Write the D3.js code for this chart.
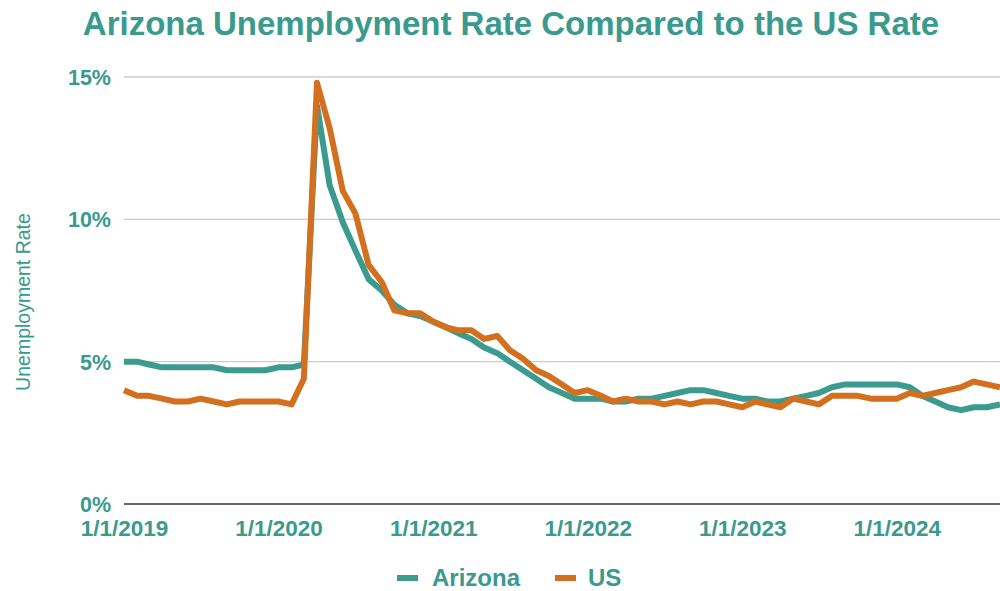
<!DOCTYPE html>
<html>
<head>
<meta charset="utf-8">
<script src="https://cdn.jsdelivr.net/npm/d3@7"></script>
<style>
  html, body { margin: 0; padding: 0; background: #ffffff; }
  svg { display: block; font-family: "Liberation Sans", Arial, sans-serif; }
</style>
</head>
<body>
<svg id="chart" width="1000" height="591"></svg>
<script>
const title = "Arizona Unemployment Rate Compared to the US Rate";
const yAxisLabel = "Unemployment Rate";
const seriesNames = ["Arizona", "US"];
const seriesColors = ["#3a9b8e", "#d2701f"];
const startMonth = new Date(2019, 0, 1);
const endMonth = new Date(2024, 8, 1);
const months = d3.timeMonth.range(startMonth, d3.timeMonth.offset(endMonth, 1));
const yTickValues = [0, 5, 10, 15];
const xTickDates = [new Date(2019,0,1), new Date(2020,0,1), new Date(2021,0,1), new Date(2022,0,1), new Date(2023,0,1), new Date(2024,0,1)];

const arizona = [
  5.0, 5.0, 4.9, 4.8, 4.8, 4.8, 4.8, 4.8, 4.7, 4.7, 4.7, 4.7,
  4.8, 4.8, 4.9, 14.0, 11.2, 9.9, 8.9, 7.9, 7.5, 7.0, 6.7, 6.6,
  6.4, 6.2, 6.0, 5.8, 5.5, 5.3, 5.0, 4.7, 4.4, 4.1, 3.9, 3.7,
  3.7, 3.7, 3.6, 3.6, 3.7, 3.7, 3.8, 3.9, 4.0, 4.0, 3.9, 3.8,
  3.7, 3.7, 3.6, 3.6, 3.7, 3.8, 3.9, 4.1, 4.2, 4.2, 4.2, 4.2,
  4.2, 4.1, 3.8, 3.6, 3.4, 3.3, 3.4, 3.4, 3.5
];
const us = [
  4.0, 3.8, 3.8, 3.7, 3.6, 3.6, 3.7, 3.6, 3.5, 3.6, 3.6, 3.6,
  3.6, 3.5, 4.4, 14.8, 13.2, 11.0, 10.2, 8.4, 7.8, 6.8, 6.7, 6.7,
  6.4, 6.2, 6.1, 6.1, 5.8, 5.9, 5.4, 5.1, 4.7, 4.5, 4.2, 3.9,
  4.0, 3.8, 3.6, 3.7, 3.6, 3.6, 3.5, 3.6, 3.5, 3.6, 3.6, 3.5,
  3.4, 3.6, 3.5, 3.4, 3.7, 3.6, 3.5, 3.8, 3.8, 3.8, 3.7, 3.7,
  3.7, 3.9, 3.8, 3.9, 4.0, 4.1, 4.3, 4.2, 4.1
];

const teal = "#3a9a8d";
const svg = d3.select("#chart");
const W = 1000, H = 591;
const plot = { left: 124, right: 1000, top: 77, bottom: 504 };

const x = d3.scaleTime().domain([startMonth, endMonth]).range([plot.left, plot.right]);
const y = d3.scaleLinear().domain([0, 15]).range([plot.bottom, plot.top]);

// Title
svg.append("text")
  .attr("x", 511).attr("y", 35)
  .attr("text-anchor", "middle")
  .attr("font-size", 33).attr("font-weight", "bold")
  .attr("fill", teal)
  .text(title);

// Gridlines
svg.append("g")
  .selectAll("line")
  .data(yTickValues.filter(v => v > 0))
  .join("line")
  .attr("x1", plot.left).attr("x2", plot.right)
  .attr("y1", d => y(d)).attr("y2", d => y(d))
  .attr("stroke", "#cccccc").attr("stroke-width", 1.3);

// Y axis labels
const yAxis = d3.axisLeft(y).tickValues(yTickValues).tickFormat(d => d + "%").tickSize(0).tickPadding(0);
const gy = svg.append("g").attr("transform", `translate(111,0)`).call(yAxis);
gy.select(".domain").remove();
gy.selectAll("text")
  .attr("font-size", 21.5).attr("font-weight", "bold")
  .attr("fill", teal).attr("font-family", "Liberation Sans, Arial, sans-serif")
  .attr("dy", "0.35em");

// X axis labels
const fmt = d => `${d.getMonth()+1}/${d.getDate()}/${d.getFullYear()}`;
const xAxis = d3.axisBottom(x).tickValues(xTickDates).tickFormat(fmt).tickSize(0).tickPadding(0);
const gx = svg.append("g").attr("transform", `translate(0,${plot.bottom})`).call(xAxis);
gx.select(".domain").remove();
gx.selectAll("text")
  .attr("font-size", 22.5).attr("font-weight", "bold")
  .attr("fill", teal).attr("font-family", "Liberation Sans, Arial, sans-serif")
  .attr("dy", null).attr("y", 32);

// Baseline
svg.append("line")
  .attr("x1", plot.left).attr("x2", plot.right)
  .attr("y1", y(0)).attr("y2", y(0))
  .attr("stroke", "#333333").attr("stroke-width", 1.6);

// Y axis title
svg.append("text")
  .attr("transform", `translate(30,302) rotate(-90)`)
  .attr("text-anchor", "middle")
  .attr("font-size", 19.5)
  .attr("fill", teal)
  .text(yAxisLabel);

// Lines
svg.append("defs").append("clipPath").attr("id", "clip")
  .append("rect").attr("x", plot.left - 5).attr("y", 0).attr("width", plot.right - plot.left + 5).attr("height", H);

const line = d3.line().x(d => x(d.date)).y(d => y(d.value));
const seriesData = [arizona, us].map((vals, i) => ({
  name: seriesNames[i], color: seriesColors[i],
  points: vals.map((v, j) => ({ date: months[j], value: v }))
}));

svg.append("g").attr("clip-path", "url(#clip)")
  .selectAll("path")
  .data(seriesData)
  .join("path")
  .attr("d", d => line(d.points))
  .attr("fill", "none")
  .attr("stroke", d => d.color)
  .attr("stroke-width", 6)
  .attr("stroke-linejoin", "round");

// Legend
const legendItems = [
  { name: seriesNames[0], color: seriesColors[0], sx: 397, tx: 432 },
  { name: seriesNames[1], color: seriesColors[1], sx: 555, tx: 588 }
];
const lg = svg.append("g");
legendItems.forEach(it => {
  lg.append("rect").attr("x", it.sx).attr("y", 575).attr("width", 21).attr("height", 6).attr("fill", it.color);
  lg.append("text").attr("x", it.tx).attr("y", 586)
    .attr("font-size", 24).attr("font-weight", "bold").attr("fill", teal)
    .text(it.name);
});
</script>
</body>
</html>
